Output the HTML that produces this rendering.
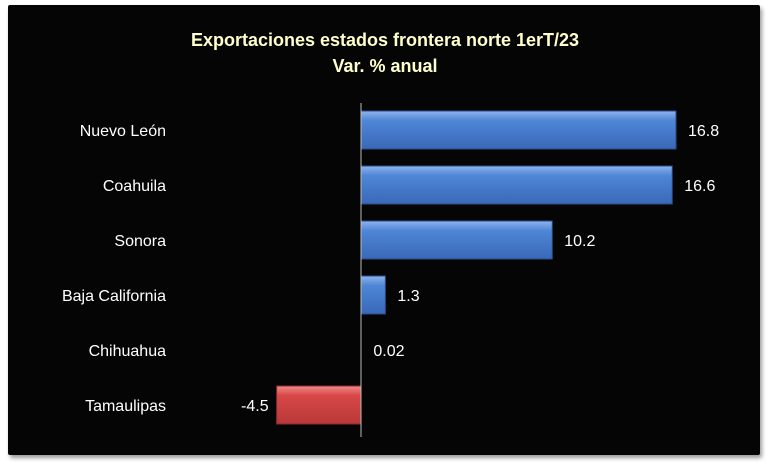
<!DOCTYPE html>
<html><head><meta charset="utf-8"><style>
body{margin:0;background:#fff;width:769px;height:468px;overflow:hidden}
#c{position:absolute;left:8px;top:5px;width:752px;height:450px;background:#050505;box-shadow:2px 3px 4px #999;border-radius:2px}
text{font-family:"Liberation Sans",sans-serif}
</style></head><body>
<div id="c"></div>
<svg id="s" width="769" height="468" style="position:absolute;left:0;top:0">
<defs>
<linearGradient id="gb" x1="0" y1="0" x2="0" y2="1"><stop offset="0" stop-color="#8fb4ee"/><stop offset="0.25" stop-color="#4f86d6"/><stop offset="1" stop-color="#3a68b8"/></linearGradient>
<linearGradient id="gr" x1="0" y1="0" x2="0" y2="1"><stop offset="0" stop-color="#f08a8a"/><stop offset="0.25" stop-color="#d94848"/><stop offset="1" stop-color="#b83838"/></linearGradient>
</defs>
<text x="385" y="46" text-anchor="middle" fill="#ffffcc" font-weight="bold" font-size="18">Exportaciones estados frontera norte 1erT/23</text>
<text x="385" y="72" text-anchor="middle" fill="#ffffcc" font-weight="bold" font-size="18">Var. % anual</text>
<g id="g"></g>
</svg>
<script>
const categories=["Nuevo León","Coahuila","Sonora","Baja California","Chihuahua","Tamaulipas"];
const values=[16.8,16.6,10.2,1.3,0.02,-4.5];
const valueLabels=["16.8","16.6","10.2","1.3","0.02","-4.5"];
const x0=361,k=18.75,y0=130,step=55,bh=38;
const xs=v=>x0+v*k, ys=i=>y0+i*step;
const g=document.getElementById('g'),ns="http://www.w3.org/2000/svg";
function mk(t,a){const e=document.createElementNS(ns,t);for(const n in a)e.setAttribute(n,a[n]);g.appendChild(e);return e;}
categories.forEach((c,i)=>{
 const v=values[i],cy=ys(i);
 const x1=Math.min(xs(0),xs(v)),w=Math.abs(xs(v)-xs(0));
 if(w>0.5){const r=mk('rect',{x:x1,y:cy-bh/2,width:w,height:bh,fill:v<0?'url(#gr)':'url(#gb)',stroke:v<0?'#8a2a2a':'#2a4d8a','stroke-width':1});
 
 }
 const t=mk('text',{x:166,y:cy+6,'text-anchor':'end',fill:'#fff','font-size':16});
 t.textContent=c;
 
 
 const lx=v<0?xs(v)-8:Math.max(xs(v),xs(0))+12;
 const l=mk('text',{x:lx,y:cy+6,'text-anchor':v<0?'end':'start',fill:'#fff','font-size':16});
 l.textContent=valueLabels[i];
 
 
});
const ax=mk('line',{x1:x0,x2:x0,y1:103,y2:437,stroke:'#bbb','stroke-width':1});


</script>
</body></html>
